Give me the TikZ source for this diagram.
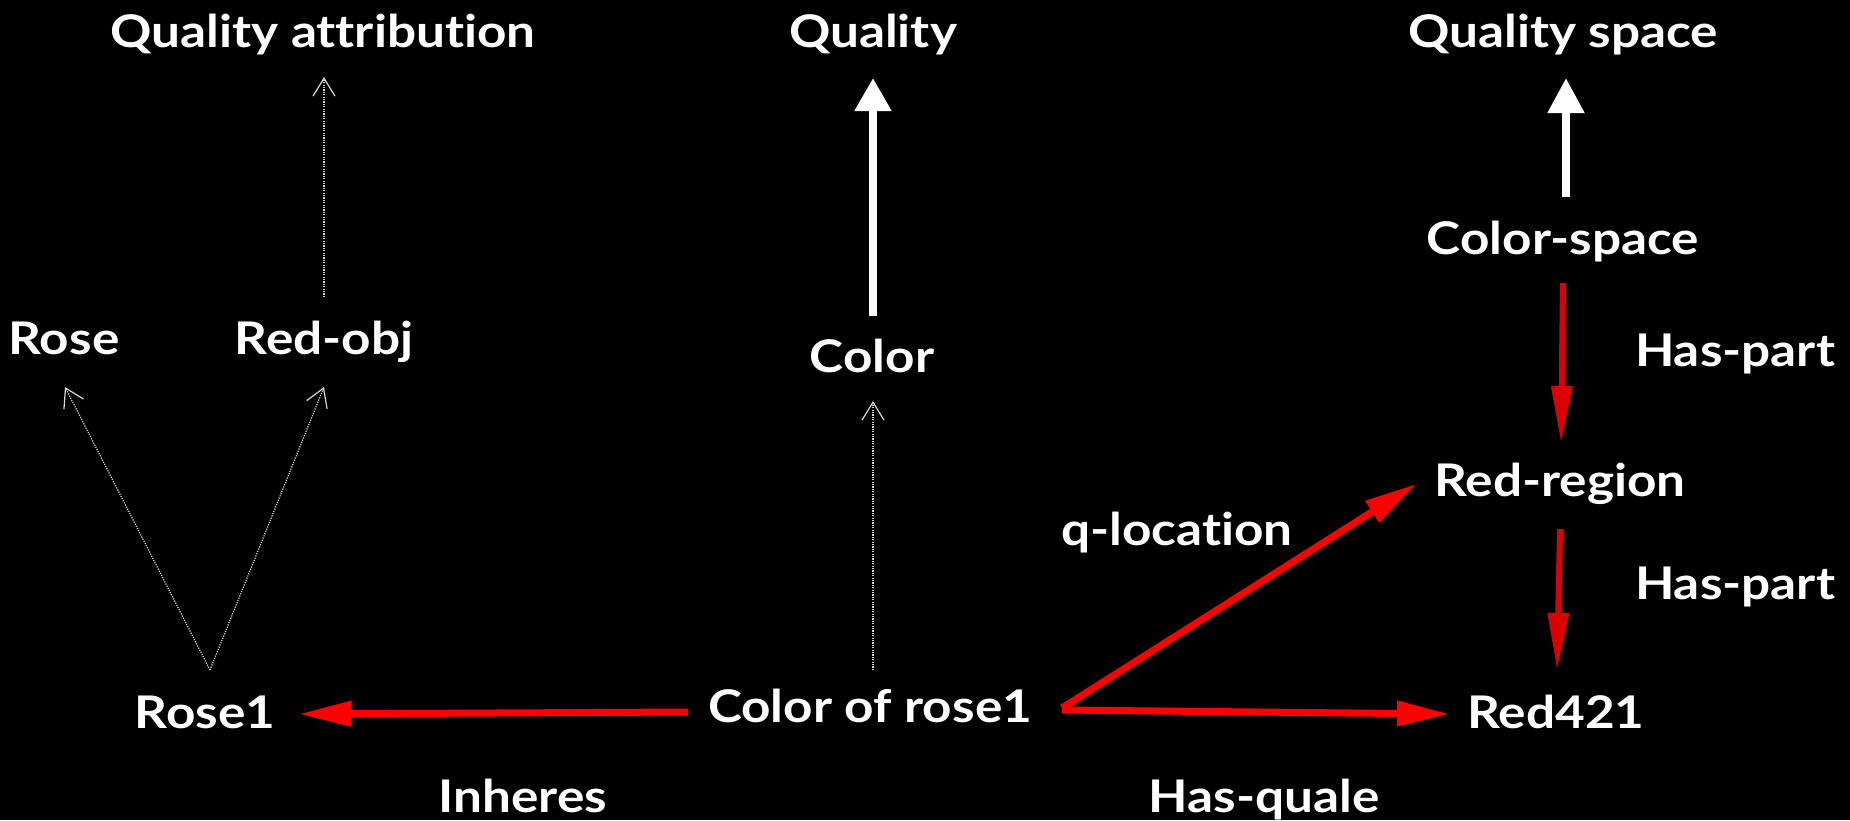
\documentclass[tikz,border=0pt]{standalone}
\usepackage{fontspec}
\setmainfont{Lato}[FakeStretch=1.14,Ligatures={NoCommon}]
\usetikzlibrary{arrows.meta}
\definecolor{brred}{HTML}{FF0000}
\definecolor{dkred}{HTML}{DD0000}
\definecolor{dotgray}{HTML}{D8D8D8}
\begin{document}
\begin{tikzpicture}[x=1pt,y=-1pt,
  lbl/.style={text=white,font=\bfseries\fontsize{45}{54}\selectfont,inner sep=0pt,anchor=base},
  isa/.style={draw=dotgray,line width=1.2pt,dash pattern=on 1.2pt off 1.2pt,
    -{Straight Barb[length=18pt,width=22pt,line width=1.2pt]}},
  thickup/.style={draw=white,line width=8pt,-{Triangle[length=#1,width=35pt]}},
  brarrow/.style={draw=brred,line width=7pt,-{Triangle[length=52pt,width=24pt]}},
  dkarrow/.style={draw=dkred,line width=6pt,-{Triangle[length=57pt,width=20pt]}}]
\useasboundingbox (0,0) rectangle (1850,820);
\fill[black] (0,0) rectangle (1850,820);
\begin{scope}
\clip (0,0) rectangle (1850,820);
\node[lbl] (qa) at (323,47) {Quality attribution};
\node[lbl] (q) at (873,47) {Quality};
\node[lbl] (qs) at (1563,47) {Quality space};
\node[lbl] (rose) at (64,354) {Rose};
\node[lbl] (redobj) at (324,354) {Red-obj};
\node[lbl] (color) at (872,372) {Color};
\node[lbl] (cs) at (1563,254) {Color-space};
\node[lbl] (hp1) at (1735,366) {Has-part};
\node[lbl] (rr) at (1560,496) {Red-region};
\node[lbl] (ql) at (1177,545) {q-location};
\node[lbl] (hp2) at (1735,599) {Has-part};
\node[lbl] (rose1) at (205,728) {Rose1};
\node[lbl] (cr1) at (870,722) {Color of rose1};
\node[lbl] (red421) at (1556,728) {Red421};
\node[lbl] (inh) at (523,812) {Inheres};
\node[lbl] (hq) at (1264,812) {Has-quale};
\end{scope}
% dotted is-a arrows
\draw[isa] ([shift={(0,-57)}]redobj.base) -- ([shift={(1,30)}]qa.base);
\draw[isa] ([shift={(5,-58)}]rose1.base) -- ([shift={(1,33)}]rose.base);
\draw[isa] ([shift={(5,-58)}]rose1.base) -- ([shift={(0,33)}]redobj.base);
\draw[isa] ([shift={(3,-52)}]cr1.base) -- ([shift={(1,29)}]color.base);
% thick white arrows
\draw[thickup=33pt] ([shift={(1,-56)}]color.base) -- ([shift={(0,31)}]q.base);
\draw[thickup=35pt] ([shift={(3,-57)}]cs.base) -- ([shift={(3,31)}]qs.base);
% dark red has-part arrows
\draw[dkarrow] ([shift={(0,29)}]cs.base) -- ([shift={(1,-53)}]rr.base);
\draw[dkarrow] ([shift={(0,33)}]rr.base) -- ([shift={(1,-58)}]red421.base);
% bright red arrows
\draw[brarrow] ([shift={(192,-14)}]cr1.base) -- ([shift={(-144,-12)}]rr.base);
\draw[brarrow] ([shift={(192,-12)}]cr1.base) -- ([shift={(-107,-14)}]red421.base);
\draw[brarrow] ([shift={(-182,-10)}]cr1.base) -- ([shift={(94,-14)}]rose1.base);
\end{tikzpicture}
\end{document}
